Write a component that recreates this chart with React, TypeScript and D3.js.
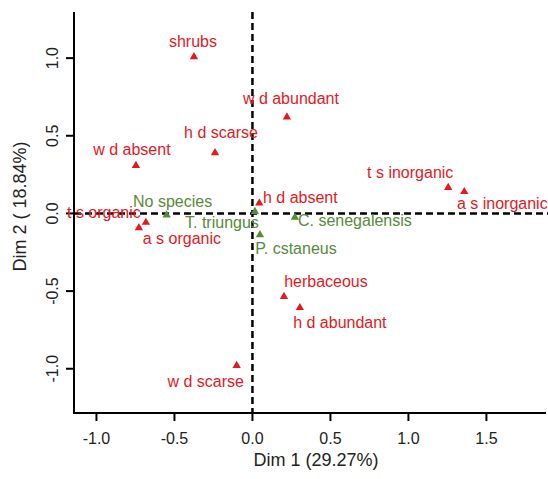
import React from 'react';
import * as d3 from 'd3';

// MCA variable categories (red) and species (green), coordinates on Dim 1 / Dim 2
const varNames = ['shrubs', 'w d abundant', 'h d scarse', 'w d absent', 't s organic', 'a s organic', 'h d absent', 't s inorganic', 'a s inorganic', 'herbaceous', 'h d abundant', 'w d scarse'];
const varDim1 = [-0.375, 0.221, -0.24, -0.747, -0.683, -0.728, 0.044, 1.255, 1.358, 0.202, 0.304, -0.101];
const varDim2 = [1.008, 0.621, 0.39, 0.308, -0.058, -0.093, 0.066, 0.166, 0.14, -0.536, -0.607, -0.98];

const spNames = ['No species', 'T. triungus', 'C. senegalensis', 'P. cstaneus'];
const spDim1 = [-0.55, 0.016, 0.272, 0.048];
const spDim2 = [-0.01, 0.012, -0.025, -0.138];

const xTicks = [-1.0, -0.5, 0.0, 0.5, 1.0, 1.5];
const yTicks = [-1.0, -0.5, 0.0, 0.5, 1.0];

const xTitle = 'Dim 1 (29.27%)';
const yTitle = 'Dim 2 ( 18.84%)';

// label nudges (px) so text does not sit on top of its marker
const labelNudge: Record<string, [number, number]> = {
  'shrubs': [-1, -15],
  'w d abundant': [4, -18],
  'h d scarse': [6, -20],
  'w d absent': [-4, -16],
  't s organic': [-42, -10],
  'a s organic': [43, 11],
  'h d absent': [41, -6],
  't s inorganic': [-38, -15],
  'a s inorganic': [38, 12],
  'herbaceous': [42, -15],
  'h d abundant': [40, 15],
  'w d scarse': [-31, 16],
  'No species': [6, -13],
  'T. triungus': [-33, 11],
  'C. senegalensis': [60, 3],
  'P. cstaneus': [36, 14],
};

const RED = '#e3191e';
const GREEN = '#578a3b';

export default function App() {
  const width = 548;
  const height = 479;
  const left = 74;
  const right = 546;
  const top = 12;
  const bottom = 413;

  const x = d3.scaleLinear().domain([-1.144, 1.882]).range([left, right]);
  const y = d3.scaleLinear().domain([-1.285, 1.297]).range([bottom, top]);

  const tri = d3.symbol().type(d3.symbolTriangle).size(30)();

  const vars = varNames.map((n, i) => ({ name: n, d1: varDim1[i], d2: varDim2[i], color: RED }));
  const sps = spNames.map((n, i) => ({ name: n, d1: spDim1[i], d2: spDim2[i], color: GREEN }));
  const all = [...vars, ...sps];

  const font = '"Liberation Sans", Arial, sans-serif';

  return (
    <svg width={width} height={height} style={{ position: 'absolute', left: 0, top: 0, background: '#fff' }} fontFamily={font}>
      {/* reference lines at zero */}
      <line x1={left} x2={width} y1={y(0)} y2={y(0)} stroke="#000" strokeWidth={2.5} strokeDasharray="7,4" />
      <line x1={x(0)} x2={x(0)} y1={top} y2={bottom} stroke="#000" strokeWidth={2.5} strokeDasharray="7,4" />

      {/* axes */}
      <line x1={left} x2={left} y1={top} y2={bottom} stroke="#000" strokeWidth={2} />
      <line x1={left - 1} x2={right} y1={bottom} y2={bottom} stroke="#000" strokeWidth={2} />
      {xTicks.map(t => (
        <g key={'x' + t}>
          <line x1={x(t)} x2={x(t)} y1={bottom} y2={bottom + 8} stroke="#000" strokeWidth={2} />
          <text x={x(t)} y={bottom + 25} fontSize={16} textAnchor="middle" dominantBaseline="central" fill="#222">
            {t.toFixed(1)}
          </text>
        </g>
      ))}
      {yTicks.map(t => (
        <g key={'y' + t}>
          <line x1={left - 8} x2={left} y1={y(t)} y2={y(t)} stroke="#000" strokeWidth={2} />
          <text transform={`translate(${left - 22},${y(t)}) rotate(-90)`} fontSize={16} textAnchor="middle" dominantBaseline="central" fill="#222">
            {t.toFixed(1)}
          </text>
        </g>
      ))}
      <text x={316} y={460} fontSize={18} textAnchor="middle" dominantBaseline="central" fill="#222">{xTitle}</text>
      <text transform={`translate(20,${(top + bottom) / 2 - 6}) rotate(-90)`} fontSize={18} textAnchor="middle" dominantBaseline="central" fill="#222">{yTitle}</text>

      {/* markers */}
      {all.map(p => (
        <path key={'m' + p.name} d={tri!} transform={`translate(${x(p.d1)},${y(p.d2)})`} fill={p.color} />
      ))}
      {/* labels */}
      {all.map(p => {
        const [dx, dy] = labelNudge[p.name] || [0, -12];
        return (
          <text key={'l' + p.name} x={x(p.d1) + dx} y={y(p.d2) + dy} fontSize={16} textAnchor="middle" dominantBaseline="central" fill={p.color}>
            {p.name}
          </text>
        );
      })}
    </svg>
  );
}
